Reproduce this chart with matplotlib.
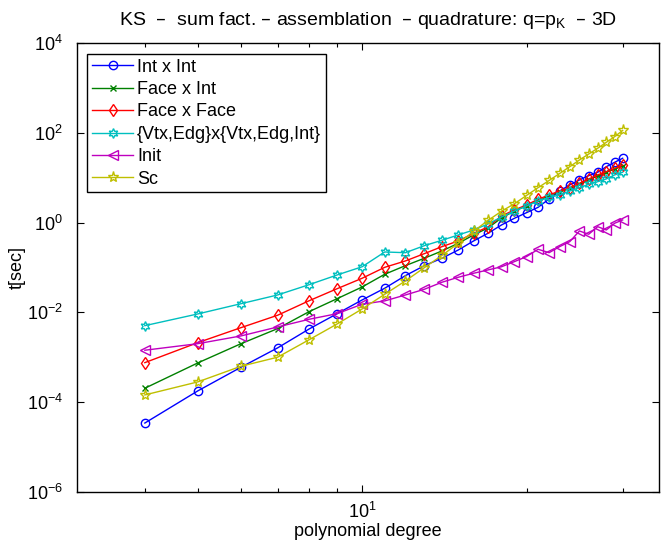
# Tiempos de ensamblaje KS con factorización por sumas (3D)

import matplotlib
matplotlib.use('Agg')
import matplotlib.pyplot as plt
from matplotlib.ticker import FixedLocator, NullFormatter, LogFormatterSciNotation

plt.rcParams['font.family'] = ['Liberation Sans', 'DejaVu Sans']
plt.rcParams['mathtext.default'] = 'regular'
plt.rcParams['font.size'] = 13

# grados polinomiales
grado = list(range(4, 31))

t_int_int = [3.4e-5, 1.77e-4, 5.97e-4, 1.61e-3, 4.27e-3, 9.35e-3, 0.0189, 0.0345, 0.0658,
             0.110, 0.161, 0.246, 0.391, 0.580, 0.889, 1.25, 1.67, 2.20, 3.38, 5.09,
             6.93, 8.96, 11.2, 13.3, 17.7, 22.2, 27.3]
t_face_int = [2.03e-4, 7.44e-4, 2.00e-3, 4.33e-3, 0.0104, 0.0202, 0.0368, 0.0707, 0.110,
              0.161, 0.234, 0.347, 0.532, 0.762, 1.27, 1.82, 2.36, 3.13, 3.94, 4.84,
              5.79, 7.11, 8.96, 11.0, 13.2, 15.7, 18.4]
t_face_face = [7.56e-4, 2.11e-3, 4.56e-3, 8.61e-3, 0.0182, 0.0337, 0.0576, 0.101, 0.140,
               0.204, 0.292, 0.391, 0.580, 0.802, 1.41, 1.92, 2.48, 3.32, 4.15, 5.09,
               6.03, 7.56, 9.43, 11.6, 13.7, 16.3, 19.3]
t_vtx_edg = [5.05e-3, 9.21e-3, 0.0156, 0.0244, 0.0415, 0.0682, 0.104, 0.222, 0.214,
             0.307, 0.405, 0.532, 0.687, 0.935, 1.34, 1.82, 2.36, 3.05, 3.65, 4.15,
             5.09, 6.03, 7.18, 8.20, 9.43, 11.6, 13.3]
t_init = [1.43e-3, 2.00e-3, 2.98e-3, 4.72e-3, 7.02e-3, 9.35e-3, 0.0152, 0.0180, 0.0244,
          0.0327, 0.0469, 0.0606, 0.0744, 0.0882, 0.104, 0.135, 0.175, 0.255, 0.214,
          0.292, 0.377, 0.653, 0.551, 0.814, 0.687, 0.970, 1.15]
t_sc = [1.44e-4, 2.81e-4, 6.28e-4, 9.98e-4, 2.46e-3, 5.51e-3, 0.0119, 0.0253, 0.0501,
        0.0993, 0.186, 0.347, 0.643, 1.12, 1.80, 2.64, 4.04, 6.03, 8.73, 12.5,
        17.7, 25.0, 34.0, 45.6, 62.0, 82.7, 114.0]

series = [
    (t_int_int, 'Int x Int', (0, 0, 1), 'o', 6),
    (t_face_int, 'Face x Int', (0, 0.5, 0), 'x', 4),
    (t_face_face, 'Face x Face', (1, 0, 0), 'd', 6.5),
    (t_vtx_edg, '{Vtx,Edg}x{Vtx,Edg,Int}', (0, 0.75, 0.75), (6, 1, 0), 7),
    (t_init, 'Init', (0.75, 0, 0.75), '<', 7),
    (t_sc, 'Sc', (0.75, 0.75, 0), '*', 8),
]

fig = plt.figure(figsize=(6.72, 5.48), dpi=100)
ax = fig.add_axes([0.114, 0.1027, 0.867, 0.8183])

for datos, nombre, color, marca, tam in series:
    ax.plot(grado, datos, color=color, marker=marca, markersize=tam,
            markerfacecolor='none', markeredgecolor=color, markeredgewidth=1.0,
            linewidth=1.0, label=nombre)

ax.set_xscale('log')
ax.set_yscale('log')
ax.set_xlim(3, 35)
ax.set_ylim(1e-6, 1e4)

ax.xaxis.set_major_locator(FixedLocator([10]))
ax.xaxis.set_major_formatter(LogFormatterSciNotation())
ax.xaxis.set_minor_locator(FixedLocator([4, 5, 6, 7, 8, 9, 20, 30]))
ax.xaxis.set_minor_formatter(NullFormatter())
ax.yaxis.set_major_locator(FixedLocator([1e-6, 1e-4, 1e-2, 1e0, 1e2, 1e4]))
ax.yaxis.set_minor_locator(FixedLocator([]))

ax.tick_params(which='both', direction='in', top=True, right=True, labelsize=13)
ax.tick_params(which='major', length=5, width=0.8)
ax.tick_params(which='minor', length=3, width=0.8)
ax.tick_params(axis='x', which='major', pad=7)
ax.tick_params(axis='y', which='major', pad=10)
for lado in ax.spines.values():
    lado.set_linewidth(1.0)

ax.set_xlabel('polynomial degree', fontsize=13, labelpad=1)
ax.set_ylabel('t[sec]', fontsize=13)
ax.yaxis.set_label_coords(-0.088, 0.5)
ax.set_title('KS  –  sum fact. – assemblation  – quadrature: q=p$_K$  – 3D', fontsize=14, pad=13)

ax.legend(loc='upper left', fontsize=13, frameon=True, fancybox=False, edgecolor='black',
          framealpha=1, borderaxespad=0.6, handlelength=2.3, labelspacing=0.3,
          borderpad=0.25, handletextpad=0.2)

fig.savefig('out.png', dpi=100)
